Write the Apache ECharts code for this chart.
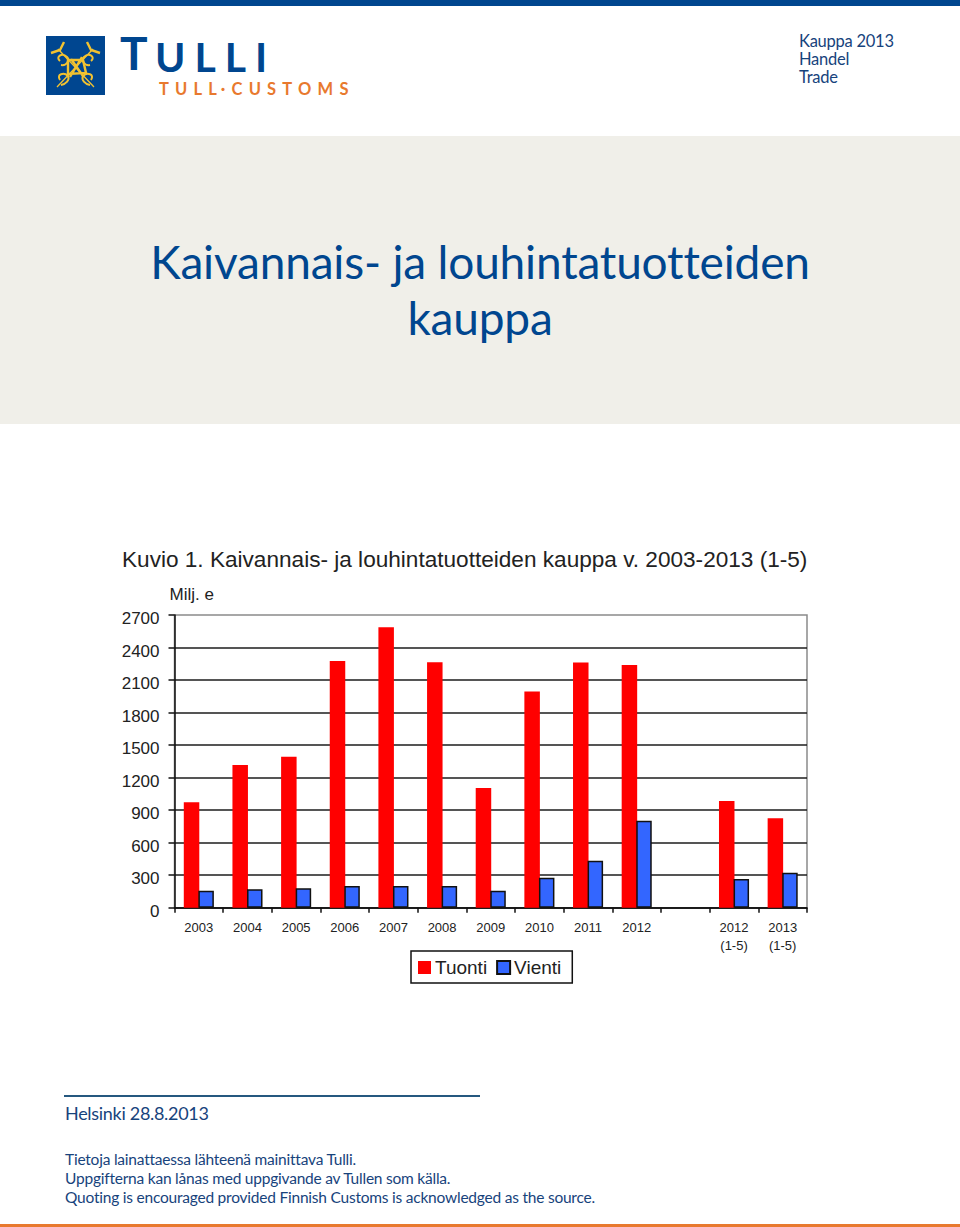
<!DOCTYPE html>
<html><head><meta charset="utf-8">
<style>
html,body{margin:0;padding:0;background:#fff;width:960px;height:1227px;overflow:hidden}
.a{position:absolute;white-space:nowrap;line-height:1}
.g{font-family:Lato,"Open Sans",sans-serif}
#chart{position:absolute;left:0;top:0;width:960px;height:1227px}
</style>
<script src="https://cdn.jsdelivr.net/npm/echarts@6/dist/echarts.min.js"></script>
</head><body>
<div class="a" style="left:0;top:0;width:960px;height:6px;background:#00468f"></div>
<div class="a" style="left:46px;top:36px;width:59px;height:59px;background:#004690"></div>
<svg class="a" style="left:46px;top:36px" width="59" height="59" viewBox="0 0 59 59" fill="none" stroke="#f2c230">
<path d="M11 51L47 13M48 51L12 13" stroke-width="1.3"/>
<path d="M5 17L14 14L18 6M54 17L45 14L41 6" stroke-width="2.4"/>
<path d="M22 24H37L40 37L22 38ZM24 41L36 21M25 23L37 40" stroke-width="2.4"/>
<path d="M14 25C9 21 16 16 21 21C24 24 21 30 15 29M45 25C50 21 43 16 38 21C35 24 38 30 44 29M14 44C10 38 18 36 22 40C24 44 20 48 15 49M45 44C49 38 41 36 37 40C35 44 39 48 44 49" stroke-width="2"/>
</svg>
<div class="a g" style="left:120px;top:30px;font-size:46px;font-weight:700;color:#00468f">T</div>
<div class="a g" style="left:155px;top:36px;font-size:41px;font-weight:700;color:#00468f;letter-spacing:9px">ULLI</div>
<div class="a g" style="left:159px;top:81px;font-size:16.5px;font-weight:700;color:#e8792e;letter-spacing:6.2px">TULL·CUSTOMS</div>
<div class="a g" style="left:799px;top:32px;font-size:16.5px;letter-spacing:-.25px;color:#17437c;line-height:18px">Kauppa 2013<br>Handel<br>Trade</div>
<div class="a" style="left:0;top:136px;width:960px;height:288px;background:#f0efe9"></div>
<div class="a g" style="left:0;top:234px;width:960px;text-align:center;font-size:46px;font-weight:400;letter-spacing:-.18px;color:#00468f;line-height:56px">Kaivannais- ja louhintatuotteiden<br>kauppa</div>
<div class="a" style="left:122px;top:547px;font:22.6px 'Liberation Sans',Arial,sans-serif;color:#222">Kuvio 1. Kaivannais- ja louhintatuotteiden kauppa v. 2003-2013 (1-5)</div>
<div class="a" style="left:64px;top:1095px;width:416px;height:2px;background:#25587f"></div>
<div class="a g" style="left:65px;top:1104px;font-size:18px;letter-spacing:-.3px;color:#17437c">Helsinki 28.8.2013</div>
<div class="a g" style="left:65px;top:1150px;font-size:15.5px;letter-spacing:-.22px;color:#17437c;line-height:19px">Tietoja lainattaessa lähteenä mainittava Tulli.<br>Uppgifterna kan lånas med uppgivande av Tullen som källa.<br>Quoting is encouraged provided Finnish Customs is acknowledged as the source.</div>
<div class="a" style="left:0;top:1224px;width:960px;height:3px;background:#e8792e"></div>
<div id="chart"></div>
<script>
const categories = ['2003','2004','2005','2006','2007','2008','2009','2010','2011','2012','','2012\n(1-5)','2013\n(1-5)'];
const tuonti = [972,1316,1393,2275,2586,2263,1104,1994,2262,2239,null,984,825];
const vienti = [157,170,179,200,200,200,157,277,434,803,null,265,323];
const yMax = 2700;
const yStep = 300;
const chart = echarts.init(document.getElementById('chart'), null, {renderer:'svg'});
const font = "'Liberation Sans',Arial,sans-serif";
chart.setOption({
  animation:false,
  backgroundColor:'transparent',
  textStyle:{fontFamily:font},
  grid:{left:174.5,top:615,width:632.5,height:292.7,show:true,borderColor:'#8a8a8a',borderWidth:1.5,backgroundColor:'transparent'},
  legend:{left:411,top:951,orient:'horizontal',padding:[7,11,6,7],itemGap:9,itemWidth:13,itemHeight:13,icon:'rect',
    borderColor:'#111',borderWidth:1.5,backgroundColor:'#fff',
    textStyle:{fontSize:19,color:'#222',fontFamily:font,padding:[1,0,0,-1]},
    data:['Tuonti','Vienti']},
  xAxis:{type:'category',data:categories,
    axisLine:{lineStyle:{color:'#111',width:1.5}},
    axisTick:{show:true,length:5,lineStyle:{color:'#111',width:1.5},alignWithLabel:false},
    axisLabel:{interval:0,fontSize:13,color:'#222',margin:11,lineHeight:18,fontFamily:font}},
  yAxis:{type:'value',min:0,max:yMax,interval:yStep,
    name:'Milj. e',nameLocation:'end',nameGap:12,
    nameTextStyle:{fontSize:17,color:'#222',align:'left',padding:[0,0,0,-5],fontFamily:font},
    axisLine:{show:true,lineStyle:{color:'#111',width:1.5}},
    axisTick:{show:true,length:6,lineStyle:{color:'#111',width:1.5}},
    axisLabel:{fontSize:17,color:'#222',margin:15,verticalAlign:'top',lineHeight:7,fontFamily:font,formatter:v=>String(v)},
    splitLine:{show:true,showMaxLine:false,lineStyle:{color:'#1c1c1c',width:1.5}}},
  series:[
    {name:'Tuonti',type:'bar',data:tuonti,barWidth:15.5,barGap:'-6%',itemStyle:{color:'#ff0000'}},
    {name:'Vienti',type:'bar',data:vienti,barWidth:15.5,itemStyle:{color:'#3366ff',borderColor:'#111',borderWidth:1.5}}
  ]
});
</script>
</body></html>
